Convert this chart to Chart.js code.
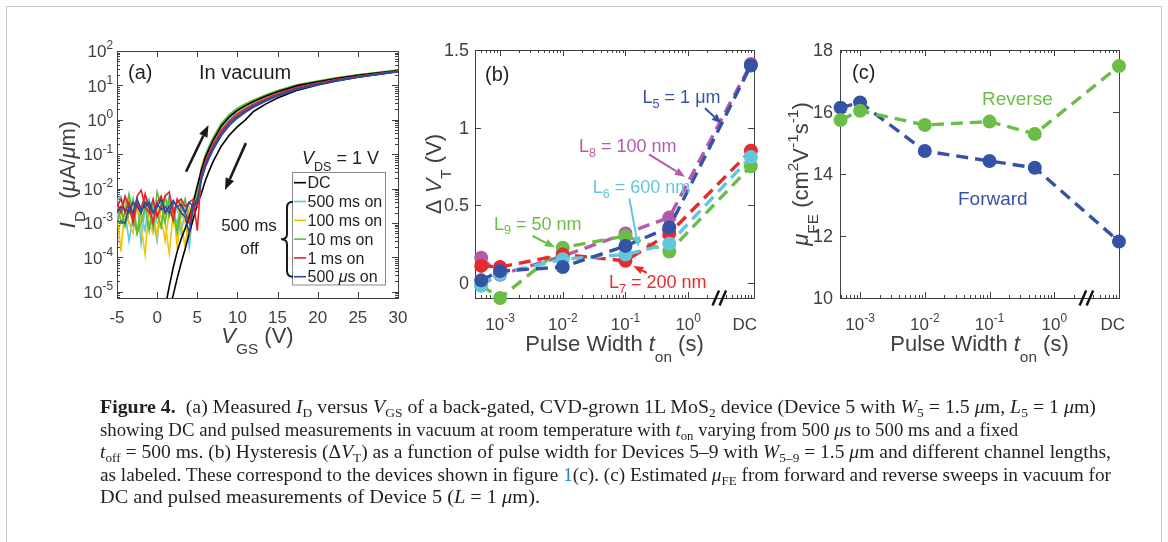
<!DOCTYPE html>
<html>
<head>
<meta charset="utf-8">
<title>Figure 4</title>
<script src="https://cdn.jsdelivr.net/npm/chart.js@4.4.1/dist/chart.umd.min.js"></script>
<style>
html, body { margin:0; padding:0; background:#fff; }
#page { position:relative; width:1168px; height:542px; overflow:hidden; background:#fff; }
#frame { position:absolute; left:6px; top:6px; width:1156px; height:620px; border:1.5px solid #c8c8c8; box-sizing:border-box; }
.cv { position:absolute; left:0; top:0; }
#caption { position:absolute; left:100px; top:396px; font-family:'Liberation Serif','Times New Roman',serif; font-size:19.5px; color:#231f20; white-space:nowrap; }
#caption .ln { height:22.5px; line-height:22.5px; }
#caption .ln > span { display:inline-block; transform-origin:0 50%; }
#caption sub { font-size:0.68em; line-height:0; vertical-align:-0.28em; }
#caption .ref { color:#2b7bbf; }
</style>
</head>
<body>
<div id="page">
  <div id="frame"></div>
  <canvas id="chartA" class="cv" width="1168" height="542"></canvas>
  <canvas id="chartB" class="cv" width="1168" height="542"></canvas>
  <canvas id="chartC" class="cv" width="1168" height="542"></canvas>
  <div id="caption">
    <div class="ln"><span data-w="996"><b>Figure 4.</b>&nbsp; (a) Measured <i>I</i><sub>D</sub> versus <i>V</i><sub>GS</sub> of a back-gated, CVD-grown 1L MoS<sub>2</sub> device (Device 5 with <i>W</i><sub>5</sub> = 1.5 <i>μ</i>m, <i>L</i><sub>5</sub> = 1 <i>μ</i>m)</span></div>
    <div class="ln"><span data-w="918">showing DC and pulsed measurements in vacuum at room temperature with <i>t</i><sub>on</sub> varying from 500 <i>μ</i>s to 500 ms and a fixed</span></div>
    <div class="ln"><span data-w="1011"><i>t</i><sub>off</sub> = 500 ms. (b) Hysteresis (Δ<i>V</i><sub>T</sub>) as a function of pulse width for Devices 5–9 with <i>W</i><sub>5–9</sub> = 1.5 <i>μ</i>m and different channel lengths,</span></div>
    <div class="ln"><span data-w="1011">as labeled. These correspond to the devices shown in figure <span class="ref">1</span>(c). (c) Estimated <i>μ</i><sub>FE</sub> from forward and reverse sweeps in vacuum for</span></div>
    <div class="ln"><span data-w="440">DC and pulsed measurements of Device 5 (<i>L</i> = 1 <i>μ</i>m).</span></div>
  </div>
</div>
<script>
// ================= DATA =================
// ---- Panel (a): I_D (µA/µm) vs V_GS (V), forward and reverse sweeps ----
const vgsSweep = [-5,-4.5,-4,-3.5,-3,-2.5,-2,-1.5,-1,-0.5,0,0.5,1,1.5,2,2.5,3,3.5,4,4.5,5,
                  5.5,6,6.5,7,8,9,10,11,12,13.5,15,17.5,20,22.5,25,30];
const vgsDC = [0.5,1,1.5,2,2.5,3,3.5,4,4.5,5,5.5,6,6.5,7,8,9,10,11,12,13.5,15,17.5,20,22.5,25,30];

const idDCFwd = [1e-6,3.5e-6,1.4e-5,5e-5,1.5e-4,3.5e-4,7e-4,1.5e-3,4e-3,1.2e-2,
                 0.0331,0.0794,0.148,0.263,0.661,1.22,1.89,2.59,3.40,4.81,6.52,9.86,12.8,16.2,19.7,27.2];
const idDCRev = [3e-7,1e-6,3e-6,8e-6,2.5e-5,7e-5,1.8e-4,5e-4,1.3e-3,3.5e-3,
                 7.1e-3,0.017,0.0339,0.0631,0.174,0.363,0.631,1.0,1.75,2.85,4.3,7.3,10.3,13.7,17.2,25.0];

const id500msFwd = [4.5e-3,6e-3,2e-3,3e-4,1.5e-3,4e-3,2.5e-4,3e-3,5e-3,1.2e-3,3e-4,4e-3,1.8e-3,6e-3,1e-3,3.5e-3,5e-4,2.5e-3,3e-4,4.5e-3,8e-3,
                    0.0288,0.0692,0.129,0.229,0.575,1.08,1.69,2.36,3.13,4.48,6.12,9.38,12.2,15.7,19.1,26.7];
const id500msRev = [3e-3,2e-3,5e-3,1e-3,8e-4,3e-3,2e-3,6e-4,4e-3,3e-3,1e-3,7e-4,3e-3,5e-3,2e-3,1e-3,4e-3,1.5e-3,2e-4,3e-3,6e-3,
                    0.0263,0.0631,0.117,0.209,0.525,0.995,1.57,2.21,2.96,4.27,5.87,9.06,11.9,15.3,18.8,26.4];
const id100msFwd = [2e-3,1.5e-4,3e-3,1e-3,5e-4,4e-3,8e-4,1.2e-4,3e-3,2e-3,4e-4,5e-3,1e-3,1.3e-4,2e-3,4e-3,9e-4,2e-4,3e-3,2e-3,9e-3,
                    0.0363,0.0871,0.162,0.288,0.724,1.33,2.03,2.77,3.60,5.05,6.79,10.2,13.1,16.6,20.0,27.5];
const id100msRev = [4e-3,2e-3,1e-3,5e-3,3e-3,6e-4,2e-3,4e-3,1e-3,5e-4,3e-3,1.5e-3,3e-4,2e-3,3e-3,2e-4,2e-3,1e-3,4e-4,2.5e-3,7e-3,
                    0.0316,0.0759,0.141,0.251,0.631,1.175,1.82,2.51,3.31,4.70,6.38,9.70,12.6,16.0,19.5,27.0];
const id10msFwd = [5e-3,1e-3,2e-3,7e-3,1.5e-3,5e-4,3e-3,6e-3,2e-3,7e-4,8e-3,3e-3,1e-3,5e-3,2e-3,6e-4,4e-3,2e-3,1e-3,3e-3,8e-3,
                   0.0398,0.0955,0.178,0.316,0.794,1.445,2.19,2.95,3.80,5.30,7.08,10.57,13.49,17.0,20.4,27.8];
const id10msRev = [1e-3,3e-3,8e-4,2e-3,5e-3,5e-4,1e-3,3e-3,6e-4,4e-3,2e-3,8e-4,6e-3,1.5e-3,3e-3,5e-4,2e-3,5e-3,1.2e-3,2e-3,6e-3,
                   0.0347,0.0832,0.155,0.275,0.692,1.276,1.96,2.68,3.50,4.93,6.65,10.05,12.9,16.4,19.9,27.4];
const id1msFwd = [3e-3,5e-3,2e-3,4e-3,1.5e-3,6e-3,9e-3,3e-3,2e-3,5e-3,1.5e-3,3e-3,6e-3,8e-3,2e-3,4e-3,5e-3,3e-3,4e-3,5e-3,6e-4,
                  0.0245,0.0589,0.110,0.195,0.490,0.935,1.49,2.10,2.84,4.12,5.69,8.83,11.7,15.0,18.5,26.2];
const id1msRev = [4e-3,2e-3,6e-3,3e-3,1e-3,4e-3,2e-3,7e-3,3e-3,1e-3,4e-3,6e-3,2e-3,3e-3,1.2e-3,5e-3,3e-3,2e-3,1e-3,4e-3,3e-3,
                  0.0214,0.0513,0.0955,0.170,0.427,0.826,1.33,1.91,2.62,3.84,5.35,8.39,11.2,14.5,18.0,25.8];
const id500usFwd = [1.1e-3,1.1e-3,1e-3,3e-3,2e-3,5e-3,2.5e-3,3e-3,4e-3,2e-3,3e-3,5e-3,2e-3,3e-3,4.5e-3,3e-3,2e-3,1.5e-3,5e-4,3e-3,4e-3,
                    0.020,0.0479,0.0891,0.158,0.398,0.776,1.26,1.82,2.51,3.70,5.19,8.18,11.0,14.3,17.8,25.6];
const id500usRev = [2e-3,3e-3,2.5e-3,2e-3,4e-3,3e-3,2e-3,4e-3,3e-3,2e-3,3.5e-3,2.5e-3,3e-3,2e-3,4e-3,3e-3,3.5e-3,2e-3,4e-3,3e-3,5e-3,
                    0.0174,0.0417,0.0776,0.138,0.347,0.685,1.13,1.65,2.31,3.44,4.88,7.78,10.5,13.8,17.3,25.2];

const legendLabelsA = ['DC','500 ms on','100 ms on','10 ms on','1 ms on','500 μs on'];
const xTicksA = [-5,0,5,10,15,20,25,30];
const yTickExpA = [-5,-4,-3,-2,-1,0,1,2];

// ---- Panel (b): hysteresis ΔV_T (V) vs pulse width t_on (s), last column = DC ----
const pulseWidths = [5e-4,1e-3,1e-2,1e-1,0.5];
const dVT_L5 = [0.014,0.074,0.10,0.236,0.355,1.40];   // L5 = 1 µm
const dVT_L6 = [-0.02,0.055,0.15,0.18,0.25,0.81];     // L6 = 600 nm
const dVT_L7 = [0.107,0.10,0.18,0.14,0.316,0.85];     // L7 = 200 nm
const dVT_L8 = [0.16,0.05,0.17,0.316,0.42,1.41];      // L8 = 100 nm
const dVT_L9 = [-0.02,-0.10,0.225,0.30,0.20,0.75];    // L9 = 50 nm
const yTicksB = [0,0.5,1,1.5];
const xTickExpBC = [-3,-2,-1,0];

// ---- Panel (c): field-effect mobility (cm²/Vs), last column = DC ----
const muForward = [16.14,16.31,14.74,14.42,14.20,11.82];
const muReverse = [15.74,16.04,15.58,15.69,15.29,17.48];
const yTicksC = [10,12,14,16,18];

// ================= STYLE / HELPERS =================
const FONT = "'Liberation Sans', Arimo, Arial, Helvetica, sans-serif";
const AXIS = '#404040';
const TICKTXT = '#404040';
const DARK = '#1f1f1f';
const DC_POS = 10;          // position of the DC column on the broken log axis
const DC_LABEL_POS = 8;     // where the "DC" tick label is centred
const BREAK_POS = 10 ** 0.5;
const TITLE = 22;

const CA = { black:'#000000', cyan:'#5ec9e2', yellow:'#f2c400', green:'#5cbb3e', red:'#e8222a', blue:'#2c4c9f' };
const CB = { blue:'#3553a4', cyan:'#62c7dc', red:'#e92a2d', green:'#6cbd47', magenta:'#b35aa9' };

function drawRich(ctx, segs, x, y, o) {
  const size = o.size, fam = o.family || FONT;
  const subS = o.subScale ?? 0.7, supS = o.supScale ?? 0.7;
  const subDy = (o.subDy ?? 0.3) * size, supDy = (o.supDy ?? 0.45) * size;
  ctx.save();
  ctx.translate(x, y);
  if (o.rotate) ctx.rotate(o.rotate);
  ctx.textBaseline = 'alphabetic'; ctx.textAlign = 'left';
  ctx.fillStyle = o.color || DARK;
  const parts = segs.map(seg => {
    const t = seg[0], f = (seg[1] || '').split(' ');
    const sub = f.includes('sub'), sup = f.includes('sup');
    const fs = sub ? size * subS : sup ? size * supS : size;
    const font = (f.includes('i') ? 'italic ' : '') + (f.includes('b') ? 'bold ' : '') + fs.toFixed(2) + 'px ' + fam;
    ctx.font = font;
    return { t, font, w: ctx.measureText(t).width, dy: sub ? subDy : sup ? -supDy : 0 };
  });
  const total = parts.reduce((s, p) => s + p.w, 0);
  let cx = o.align === 'center' ? -total / 2 : o.align === 'right' ? -total : 0;
  const base = o.middle ? 0.36 * size : 0;
  for (const p of parts) { ctx.font = p.font; ctx.fillText(p.t, cx, base + p.dy); cx += p.w; }
  ctx.restore();
  return total;
}
function muItalic(s) {
  const out = []; let buf = '';
  for (const ch of s) { if (ch === 'μ') { if (buf) out.push([buf]); out.push(['μ', 'i']); buf = ''; } else buf += ch; }
  if (buf) out.push([buf]);
  return out;
}
function line(ctx, x1, y1, x2, y2, color, lw) {
  ctx.beginPath(); ctx.moveTo(x1, y1); ctx.lineTo(x2, y2);
  ctx.strokeStyle = color; ctx.lineWidth = lw; ctx.stroke();
}
function drawArrow(ctx, x1, y1, x2, y2, color, lw, hl, hw) {
  const ang = Math.atan2(y2 - y1, x2 - x1);
  const bx = x2 - hl * Math.cos(ang), by = y2 - hl * Math.sin(ang);
  ctx.save();
  line(ctx, x1, y1, bx, by, color, lw);
  ctx.fillStyle = color;
  ctx.beginPath(); ctx.moveTo(x2, y2);
  ctx.lineTo(bx + hw / 2 * Math.sin(ang), by - hw / 2 * Math.cos(ang));
  ctx.lineTo(bx - hw / 2 * Math.sin(ang), by + hw / 2 * Math.cos(ang));
  ctx.closePath(); ctx.fill();
  ctx.restore();
}
function drawBox(ctx, a) {
  ctx.save(); ctx.strokeStyle = AXIS; ctx.lineWidth = 1;
  ctx.strokeRect(Math.round(a.left) + 0.5, Math.round(a.top) + 0.5, Math.round(a.right - a.left), Math.round(a.bottom - a.top));
  ctx.restore();
}
function inRange(scale, v) { return v >= scale.min * (1 - 1e-9) && v <= scale.max * (1 + 1e-9); }
function ticksX(ctx, xs, a, vals, len) {
  vals.forEach(v => {
    if (!inRange(xs, v)) return;
    const px = Math.round(xs.getPixelForValue(v)) + 0.5;
    if (px < a.left + 1.5 || px > a.right - 0.5) return;
    line(ctx, px, a.bottom, px, a.bottom - len, AXIS, 1);
    line(ctx, px, a.top, px, a.top + len, AXIS, 1);
  });
}
function ticksY(ctx, ys, a, vals, len) {
  vals.forEach(v => {
    if (!inRange(ys, v)) return;
    const py = Math.round(ys.getPixelForValue(v)) + 0.5;
    line(ctx, a.left, py, a.left + len, py, AXIS, 1);
    line(ctx, a.right, py, a.right - len, py, AXIS, 1);
  });
}
function drawBreak(ctx, xs, a) {
  const cx = xs.getPixelForValue(BREAK_POS), b = a.bottom;
  ctx.save(); ctx.lineCap = 'butt';
  line(ctx, cx - 7, b + 7.5, cx - 0.5, b - 7.5, '#111', 2.4);
  line(ctx, cx, b + 7.5, cx + 6.5, b - 7.5, '#111', 2.4);
  ctx.restore();
}
function pts(xv, yv) { return xv.map((x, i) => ({ x, y: yv[i] })); }

// ================= PANEL (a) =================
const sweepA = (xv, yv, color) => ({ data: pts(xv, yv), borderColor: color, borderWidth: 1.6, pointRadius: 0, tension: 0, fill: false });
const datasetsA = [
  sweepA(vgsSweep, id500usRev, CA.blue), sweepA(vgsSweep, id500usFwd, CA.blue),
  sweepA(vgsSweep, id1msRev, CA.red), sweepA(vgsSweep, id1msFwd, CA.red),
  sweepA(vgsDC, idDCFwd, CA.black), sweepA(vgsDC, idDCRev, CA.black),
  sweepA(vgsSweep, id10msRev, CA.green), sweepA(vgsSweep, id10msFwd, CA.green),
  sweepA(vgsSweep, id100msRev, CA.yellow), sweepA(vgsSweep, id100msFwd, CA.yellow),
  sweepA(vgsSweep, id500msRev, CA.cyan), sweepA(vgsSweep, id500msFwd, CA.cyan),
];
const legendColorsA = [CA.black, CA.cyan, CA.yellow, CA.green, CA.red, CA.blue];

const minorA = [];
for (let e = -6; e <= 1; e++) for (let m = 2; m <= 9; m++) minorA.push(m * 10 ** e);

const panelA = {
  id: 'panelA',
  beforeDatasetsDraw(chart) {
    const ctx = chart.ctx, xs = chart.scales.x, ys = chart.scales.y, a = chart.chartArea;
    drawBox(ctx, a);
    ticksX(ctx, xs, a, xTicksA, 6);
    ticksY(ctx, ys, a, yTickExpA.map(e => 10 ** e), 6);
    ticksY(ctx, ys, a, minorA, 3);
  },
  afterDatasetsDraw(chart) {
    const ctx = chart.ctx, xs = chart.scales.x, ys = chart.scales.y, a = chart.chartArea;
    xTicksA.forEach(v => drawRich(ctx, [[String(v)]], xs.getPixelForValue(v), a.bottom + 25, { size: 17, align: 'center', color: TICKTXT }));
    yTickExpA.forEach(e => drawRich(ctx, [['10'], [String(e), 'sup']], a.left - 4, ys.getPixelForValue(10 ** e), { size: 17, align: 'right', middle: true, color: TICKTXT }));
    drawRich(ctx, [['V', 'i'], ['GS', 'sub'], [' (V)']], (a.left + a.right) / 2, 343, { size: TITLE, align: 'center', color: TICKTXT, subDy: 0.5 });
    drawRich(ctx, [['I', 'i'], ['D', 'sub'], ['  ('], ['μ', 'i'], ['A/'], ['μ', 'i'], ['m)']], 67, (a.top + a.bottom) / 2, { size: TITLE, align: 'center', middle: true, rotate: -Math.PI / 2, color: TICKTXT, subDy: 0.45 });
    drawRich(ctx, [['(a)']], 128, 72, { size: 20, middle: true, color: DARK });
    drawRich(ctx, [['In vacuum']], 199, 72, { size: 20, middle: true, color: DARK });
    drawRich(ctx, [['V', 'i'], ['DS', 'sub'], [' = 1 V']], 302, 158, { size: 18, middle: true, color: DARK, subDy: 0.35 });
    drawArrow(ctx, xs.getPixelForValue(3.6), ys.getPixelForValue(0.031), xs.getPixelForValue(6.4), ys.getPixelForValue(0.71), '#1a1a1a', 2.6, 12, 9);
    drawArrow(ctx, xs.getPixelForValue(11.05), ys.getPixelForValue(0.21), xs.getPixelForValue(8.45), ys.getPixelForValue(0.0091), '#1a1a1a', 2.6, 12, 9);
    // legend
    const lx = 292.5, ly = 172.5, lw = 93, lh = 112.5;
    ctx.save();
    ctx.fillStyle = '#fff'; ctx.fillRect(lx, ly, lw, lh);
    ctx.strokeStyle = '#8a8a8a'; ctx.lineWidth = 1; ctx.strokeRect(lx, ly, lw, lh);
    legendLabelsA.forEach((lab, i) => {
      const y = ly + 10.2 + i * 18.8;
      line(ctx, lx + 1.5, y, lx + 13.5, y, legendColorsA[i], 1.6);
      drawRich(ctx, muItalic(lab), lx + 15, y, { size: 16, middle: true, color: DARK });
    });
    // brace and "500 ms off"
    ctx.beginPath();
    const bx = 293, t = 201.7, m = 239.2, b = 276.7;
    ctx.moveTo(bx, t);
    ctx.quadraticCurveTo(bx - 6, t, bx - 6, t + 6);
    ctx.lineTo(bx - 6, m - 5);
    ctx.quadraticCurveTo(bx - 6, m, bx - 12, m);
    ctx.quadraticCurveTo(bx - 6, m, bx - 6, m + 5);
    ctx.lineTo(bx - 6, b - 6);
    ctx.quadraticCurveTo(bx - 6, b, bx, b);
    ctx.strokeStyle = '#1a1a1a'; ctx.lineWidth = 2; ctx.stroke();
    ctx.restore();
    drawRich(ctx, [['500 ms']], 249, 225, { size: 17, align: 'center', middle: true, color: DARK });
    drawRich(ctx, [['off']], 249.5, 248.3, { size: 17, align: 'center', middle: true, color: DARK });
  }
};

new Chart(document.getElementById('chartA'), {
  type: 'line',
  data: { datasets: datasetsA },
  options: {
    responsive: false, animation: false, devicePixelRatio: 1, events: [],
    layout: { padding: { left: 117, top: 51, right: 1168 - 398, bottom: 542 - 298 } },
    scales: {
      x: { type: 'linear', min: -5, max: 30, display: false },
      y: { type: 'logarithmic', min: 10 ** -5.18, max: 100, display: false }
    },
    plugins: { legend: { display: false }, tooltip: { enabled: false } }
  },
  plugins: [panelA]
});

// ================= PANELS (b) & (c) shared =================
const xColsBC = [...pulseWidths, DC_POS];
const minorBC = [];
for (let e = -4; e <= 0; e++) for (let m = 2; m <= 9; m++) { if (!(e === 0 && m === 3)) minorBC.push(m * 10 ** e); }
minorBC.push(10);
const dashSet = (yv, color) => ({
  data: pts(xColsBC, yv), borderColor: color, backgroundColor: color,
  borderWidth: 3.4, borderDash: [12, 7], pointRadius: 7, pointBorderWidth: 0,
  pointBackgroundColor: color, tension: 0, fill: false, clip: false
});
function logLabelsX(ctx, xs, a) {
  xTickExpBC.forEach(e => drawRich(ctx, [['10'], [String(e), 'sup']], xs.getPixelForValue(10 ** e), a.bottom + 32, { size: 17, align: 'center', color: TICKTXT }));
  drawRich(ctx, [['DC']], xs.getPixelForValue(DC_LABEL_POS), a.bottom + 32, { size: 17, align: 'center', color: TICKTXT });
  drawRich(ctx, [['Pulse Width '], ['t', 'i'], ['on', 'sub'], [' (s)']], (a.left + a.right) / 2, 351, { size: TITLE, align: 'center', color: TICKTXT, subDy: 0.5 });
}
function frameBC(ctx, xs, ys, a, yTicks) {
  drawBox(ctx, a);
  ticksX(ctx, xs, a, xTickExpBC.map(e => 10 ** e), 6);
  ticksX(ctx, xs, a, minorBC, 3);
  ticksY(ctx, ys, a, yTicks, 6);
  drawBreak(ctx, xs, a);
}

// ================= PANEL (b) =================
const annotB = [
  { segs: [['L'], ['5', 'sub'], [' = 1 μm']], color: CB.blue, at: [0.1875, 1.199], from: [1.854, 1.124], to: [3.42, 1.026] },
  { segs: [['L'], ['8', 'sub'], [' = 100 nm']], color: CB.magenta, at: [0.01816, 0.881], from: [0.237, 0.827], to: [0.889, 0.683] },
  { segs: [['L'], ['6', 'sub'], [' = 600 nm']], color: CB.cyan, at: [0.030, 0.618], from: [0.115, 0.543], to: [0.16, 0.231] },
  { segs: [['L'], ['9', 'sub'], [' = 50 nm']], color: CB.green, at: [8.0e-4, 0.382], from: [3.3e-3, 0.30], to: [7.5e-3, 0.227] },
  { segs: [['L'], ['7', 'sub'], [' = 200 nm']], color: CB.red, at: [0.0546, 0.005], from: [0.218, 0.063], to: [0.133, 0.106] },
];
const panelB = {
  id: 'panelB',
  beforeDatasetsDraw(chart) {
    frameBC(chart.ctx, chart.scales.x, chart.scales.y, chart.chartArea, yTicksB);
  },
  afterDatasetsDraw(chart) {
    const ctx = chart.ctx, xs = chart.scales.x, ys = chart.scales.y, a = chart.chartArea;
    yTicksB.forEach(v => drawRich(ctx, [[String(v)]], a.left - 6, ys.getPixelForValue(v), { size: 18, align: 'right', middle: true, color: TICKTXT }));
    logLabelsX(ctx, xs, a);
    drawRich(ctx, [['Δ '], ['V', 'i'], ['T', 'sub'], [' (V)']], 433, (a.top + a.bottom) / 2, { size: TITLE, align: 'center', middle: true, rotate: -Math.PI / 2, color: TICKTXT, subDy: 0.45 });
    drawRich(ctx, [['(b)']], 485, 73.3, { size: 20, middle: true, color: DARK });
    annotB.forEach(n => {
      drawRich(ctx, n.segs, xs.getPixelForValue(n.at[0]), ys.getPixelForValue(n.at[1]), { size: 18, middle: true, color: n.color, subDy: 0.25 });
      drawArrow(ctx, xs.getPixelForValue(n.from[0]), ys.getPixelForValue(n.from[1]), xs.getPixelForValue(n.to[0]), ys.getPixelForValue(n.to[1]), n.color, 2, 10, 8);
    });
  }
};
new Chart(document.getElementById('chartB'), {
  type: 'line',
  data: { datasets: [
    dashSet(dVT_L5, CB.blue), dashSet(dVT_L6, CB.cyan), dashSet(dVT_L7, CB.red),
    dashSet(dVT_L9, CB.green), dashSet(dVT_L8, CB.magenta)
  ] },
  options: {
    responsive: false, animation: false, devicePixelRatio: 1, events: [],
    layout: { padding: { left: 475, top: 50, right: 1168 - 754, bottom: 542 - 298 } },
    scales: {
      x: { type: 'logarithmic', min: 10 ** -3.4, max: 10 ** 1.05, display: false },
      y: { type: 'linear', min: -0.1, max: 1.5, display: false }
    },
    plugins: { legend: { display: false }, tooltip: { enabled: false } }
  },
  plugins: [panelB]
});

// ================= PANEL (c) =================
const panelC = {
  id: 'panelC',
  beforeDatasetsDraw(chart) {
    frameBC(chart.ctx, chart.scales.x, chart.scales.y, chart.chartArea, yTicksC);
  },
  afterDatasetsDraw(chart) {
    const ctx = chart.ctx, xs = chart.scales.x, ys = chart.scales.y, a = chart.chartArea;
    yTicksC.forEach(v => drawRich(ctx, [[String(v)]], a.left - 7, ys.getPixelForValue(v), { size: 18, align: 'right', middle: true, color: TICKTXT }));
    logLabelsX(ctx, xs, a);
    drawRich(ctx, [['μ', 'i'], ['FE', 'sub'], [' (cm'], ['2', 'sup'], ['V'], ['-1', 'sup'], ['s'], ['-1', 'sup'], [')']], 800, (a.top + a.bottom) / 2, { size: TITLE, align: 'center', middle: true, rotate: -Math.PI / 2, color: TICKTXT, subDy: 0.45 });
    drawRich(ctx, [['(c)']], 852, 71.7, { size: 20, middle: true, color: DARK });
    drawRich(ctx, [['Reverse']], 982, 98.3, { size: 19, middle: true, color: CB.green });
    drawRich(ctx, [['Forward']], 958, 198.3, { size: 19, middle: true, color: CB.blue });
  }
};
new Chart(document.getElementById('chartC'), {
  type: 'line',
  data: { datasets: [dashSet(muReverse, CB.green), dashSet(muForward, CB.blue)] },
  options: {
    responsive: false, animation: false, devicePixelRatio: 1, events: [],
    layout: { padding: { left: 840, top: 50, right: 1168 - 1119, bottom: 542 - 298 } },
    scales: {
      x: { type: 'logarithmic', min: 10 ** -3.31, max: 10, display: false },
      y: { type: 'linear', min: 10, max: 18, display: false }
    },
    plugins: { legend: { display: false }, tooltip: { enabled: false } }
  },
  plugins: [panelC]
});

// ================= caption: fit each line to the reference line length =================
document.querySelectorAll('#caption .ln > span').forEach(sp => {
  const w = sp.getBoundingClientRect().width, target = +sp.dataset.w;
  if (w > 0 && target > 0) sp.style.transform = 'scaleX(' + (target / w).toFixed(4) + ')';
});
</script>
</body>
</html>
